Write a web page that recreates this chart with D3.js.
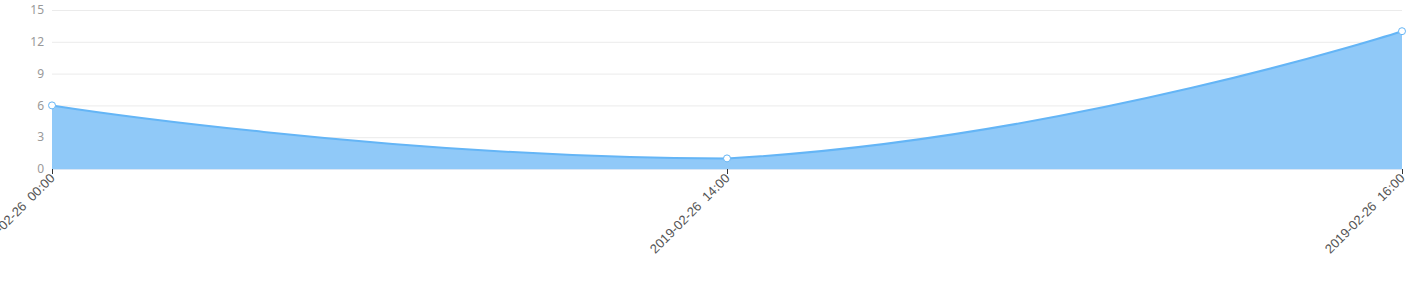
<!DOCTYPE html>
<html>
<head>
<meta charset="utf-8">
<script src="https://cdn.jsdelivr.net/npm/d3@7"></script>
<style>
  body { margin: 0; background: #fff; }
  svg { display: block; font-family: "Noto Sans", "DejaVu Sans", sans-serif; }
</style>
</head>
<body>
<svg id="chart" width="1422" height="300"></svg>
<script>
// chart data
var times = ["2019-02-26  00:00", "2019-02-26  14:00", "2019-02-26  16:00"];
var counts = [6, 1, 13];
var yTicks = [0, 3, 6, 9, 12, 15];

var margin = { top: 10, right: 20, bottom: 131, left: 52 };
var width = 1422, height = 300;

var svg = d3.select("#chart");

var x = d3.scalePoint()
  .domain(times)
  .range([margin.left, width - margin.right]);

var y = d3.scaleLinear()
  .domain([0, 15])
  .range([height - margin.bottom, margin.top]);

var data = times.map(function (t, i) { return { t: t, v: counts[i] }; });

// smooth bezier through the points, control points kept inside the points' box
function smoothPath(pts, p) {
  var smooth = 0.5;
  var minY = d3.min(pts, function (q) { return q[1]; });
  var maxY = d3.max(pts, function (q) { return q[1]; });
  var cps = [];
  pts.forEach(function (q, i) {
    if (i === 0 || i === pts.length - 1) { cps.push([q, q]); return; }
    var prev = pts[i - 1], next = pts[i + 1];
    var vx = next[0] - prev[0], vy = next[1] - prev[1];
    var d0 = Math.hypot(q[0] - prev[0], q[1] - prev[1]);
    var d1 = Math.hypot(q[0] - next[0], q[1] - next[1]);
    var s = d0 + d1;
    d0 /= s; d1 /= s;
    var c0 = [q[0] - vx * smooth * d0, q[1] - vy * smooth * d0];
    var c1 = [q[0] + vx * smooth * d1, q[1] + vy * smooth * d1];
    c0[1] = Math.max(minY, Math.min(maxY, c0[1]));
    c1[1] = Math.max(minY, Math.min(maxY, c1[1]));
    cps.push([c0, c1]);
  });
  p.moveTo(pts[0][0], pts[0][1]);
  for (var i = 1; i < pts.length; i++) {
    var a = cps[i - 1][1], b = cps[i][0];
    p.bezierCurveTo(a[0], a[1], b[0], b[1], pts[i][0], pts[i][1]);
  }
  return p;
}

var pts = data.map(function (d) { return [x(d.t), y(d.v)]; });

// grid lines
svg.append("g")
  .selectAll("line")
  .data(yTicks)
  .enter()
  .append("line")
  .attr("x1", margin.left)
  .attr("x2", width - margin.right)
  .attr("y1", function (d) { return y(d) + 0.5; })
  .attr("y2", function (d) { return y(d) + 0.5; })
  .attr("stroke", "#ebebeb");

// y labels
svg.append("g")
  .selectAll("text")
  .data(yTicks)
  .enter()
  .append("text")
  .attr("x", margin.left - 8)
  .attr("y", function (d) { return y(d); })
  .attr("dy", "0.35em")
  .attr("text-anchor", "end")
  .attr("font-size", 12)
  .attr("fill", "#999")
  .text(function (d) { return d; });

var areaPath = smoothPath(pts, d3.path());
areaPath.lineTo(pts[pts.length - 1][0], y(0));
areaPath.lineTo(pts[0][0], y(0));
areaPath.closePath();

svg.append("path")
  .attr("d", areaPath.toString())
  .attr("fill", "#90c9f8");

svg.append("path")
  .attr("d", smoothPath(pts, d3.path()).toString())
  .attr("fill", "none")
  .attr("stroke", "#64b5f6")
  .attr("stroke-width", 2);

// x axis
var xAxis = d3.axisBottom(x).tickSize(5).tickSizeOuter(0);
var gx = svg.append("g")
  .attr("transform", "translate(0," + y(0) + ")")
  .call(xAxis);
gx.select(".domain").attr("stroke", "#d8e6f5");
gx.selectAll(".tick line").attr("stroke", "#333");
gx.selectAll(".tick text")
  .attr("font-size", 13)
  .attr("fill", "#555")
  .attr("text-anchor", "end")
  .attr("dy", null)
  .attr("y", 0)
  .attr("x", 0)
  .attr("transform", "translate(3,10) rotate(-45)")
  .style("white-space", "pre")
  .attr("xml:space", "preserve");

// points
svg.append("g")
  .selectAll("circle")
  .data(data)
  .enter()
  .append("circle")
  .attr("cx", function (d) { return x(d.t); })
  .attr("cy", function (d) { return y(d.v); })
  .attr("r", 3.5)
  .attr("fill", "#fff")
  .attr("stroke", "#64b5f6")
  .attr("stroke-width", 1);
</script>
</body>
</html>
